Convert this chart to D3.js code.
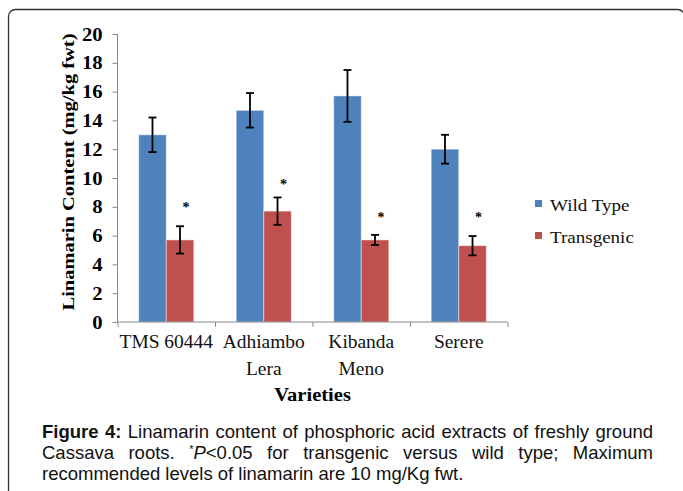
<!DOCTYPE html>
<html>
<head>
<meta charset="utf-8">
<script src="https://cdn.jsdelivr.net/npm/d3@7"></script>
<style>
  body { margin: 0; background: #fff; }
  svg { display: block; }
  .serif { font-family: "Liberation Serif", "Times New Roman", serif; }
  .sans { font-family: "Liberation Sans", Arial, sans-serif; }
</style>
</head>
<body>
<script>
// Chart data
const categoryLines = [["TMS 60444"], ["Adhiambo", "Lera"], ["Kibanda", "Meno"], ["Serere"]];
const series = ["Wild Type", "Transgenic"];
const wildType = [13.0, 14.7, 15.7, 12.0];
const wildTypeErr = [1.2, 1.2, 1.8, 1.0];
const transgenic = [5.7, 7.7, 5.7, 5.3];
const transgenicErr = [0.95, 0.95, 0.35, 0.67];
const starLevel = [8.2, 9.8, 7.5, 7.5];   // where the "*" sits over each transgenic bar
const yTicks = [0, 2, 4, 6, 8, 10, 12, 14, 16, 18, 20];
const colors = ["#4F81BD", "#C0504D"];

const W = 683, H = 491;
const svg = d3.select("body").append("svg").attr("width", W).attr("height", H);

//Frame round the figure:
svg.append("rect")
    .attr("x", 8.5).attr("y", 9.5)
    .attr("width", 676).attr("height", 500)
    .attr("rx", 7)
    .attr("fill", "none")
    .attr("stroke", "#333")
    .attr("stroke-width", 1.3);

//Scales
let x0 = d3.scaleBand().domain(d3.range(categoryLines.length)).range([117.5, 507.5]);
let x1 = d3.scaleBand().domain(series).range([0, x0.bandwidth()])
    .paddingInner(0).paddingOuter(0.77);
let y = d3.scaleLinear().domain([0, 20]).range([322, 34]);
let xEdge = d3.scaleLinear().domain([0, categoryLines.length]).range(x0.range());

let rows = categoryLines.map((c, i) => ({
    i: i,
    values: [
        {s: series[0], v: wildType[i], e: wildTypeErr[i], c: colors[0]},
        {s: series[1], v: transgenic[i], e: transgenicErr[i], c: colors[1]}
    ]
}));

//Bars
let groups = svg.selectAll("g.cat")
    .data(rows)
    .join("g")
    .attr("class", "cat")
    .attr("transform", d => `translate(${x0(d.i)},0)`);

groups.selectAll("rect")
    .data(d => d.values)
    .join("rect")
    .attr("x", d => x1(d.s))
    .attr("y", d => y(d.v))
    .attr("width", x1.bandwidth())
    .attr("height", d => y(0) - y(d.v))
    .attr("fill", d => d.c)
    .attr("stroke", "rgba(255,255,255,0.45)")
    .attr("stroke-width", 1);

//Error bars
let errs = groups.selectAll("g.err")
    .data(d => d.values)
    .join("g")
    .attr("class", "err")
    .attr("transform", d => `translate(${x1(d.s) + x1.bandwidth() / 2},0)`)
    .attr("stroke", "#000")
    .attr("stroke-width", 1.8);
errs.append("line")
    .attr("y1", d => y(d.v + d.e)).attr("y2", d => y(d.v - d.e));
errs.append("line")
    .attr("x1", -4).attr("x2", 4)
    .attr("y1", d => y(d.v + d.e)).attr("y2", d => y(d.v + d.e));
errs.append("line")
    .attr("x1", -4).attr("x2", 4)
    .attr("y1", d => y(d.v - d.e)).attr("y2", d => y(d.v - d.e));

//Significance stars
svg.selectAll("text.star")
    .data(starLevel)
    .join("text")
    .attr("class", "star serif")
    .attr("x", (d, i) => x0(i) + x1(series[1]) + x1.bandwidth() / 2 + 6)
    .attr("y", d => y(d) + 8)
    .attr("text-anchor", "middle")
    .attr("font-size", 14)
    .attr("font-weight", "bold")
    .attr("fill", "#000")
    .text("*");

//Y axis
let yAxis = svg.append("g")
    .attr("transform", `translate(${x0.range()[0]},0)`)
    .call(d3.axisLeft(y).tickValues(yTicks).tickSize(5).tickFormat(d3.format("d")));
yAxis.selectAll("path, line").attr("stroke", "#868686");
yAxis.select("path").attr("d", `M0,${y(20)}V${y(0)}`);
yAxis.selectAll("text")
    .attr("class", "serif")
    .attr("font-size", 18)
    .attr("font-weight", "bold")
    .attr("fill", "#000")
    .attr("x", -13)
    .attr("dy", "0.34em")
    .attr("transform", "scale(1.15,1)");

//X axis (ticks on the category borders)
let xAxis = svg.append("g")
    .attr("transform", `translate(0,${y(0)})`)
    .call(d3.axisBottom(xEdge).tickValues(d3.range(categoryLines.length + 1)).tickSize(5).tickFormat(""));
xAxis.selectAll("path, line").attr("stroke", "#868686");
xAxis.select("path").attr("d", `M${xEdge(0)},0H${xEdge(categoryLines.length)}`);

//Category labels
let catLabels = svg.selectAll("g.catLabel")
    .data(categoryLines)
    .join("g")
    .attr("class", "catLabel")
    .attr("transform", (d, i) => `translate(${x0(i) + x0.bandwidth() / 2},348) scale(1.08,1)`);
catLabels.append("text")
    .attr("class", "serif")
    .attr("text-anchor", "middle")
    .attr("font-size", 18)
    .attr("fill", "#111")
    .selectAll("tspan")
    .data(d => d)
    .join("tspan")
    .attr("x", 0)
    .attr("y", (d, i) => i * 27)
    .text(d => d);

//Axis titles
svg.append("text")
    .attr("class", "serif")
    .attr("transform", "translate(74,172) rotate(-90)")
    .attr("text-anchor", "middle")
    .attr("font-size", 17)
    .attr("font-weight", "bold")
    .attr("textLength", 277)
    .attr("lengthAdjust", "spacingAndGlyphs")
    .text("Linamarin Content (mg/kg fwt)");

svg.append("g")
    .attr("transform", `translate(${(xEdge(0) + xEdge(4)) / 2},401) scale(1.08,1)`)
    .append("text")
    .attr("class", "serif")
    .attr("text-anchor", "middle")
    .attr("font-size", 19)
    .attr("font-weight", "bold")
    .text("Varieties");

//Legend
let legend = svg.selectAll("g.legend")
    .data(series)
    .join("g")
    .attr("class", "legend")
    .attr("transform", (d, i) => `translate(535,${200 + i * 32})`);
legend.append("rect")
    .attr("width", 7).attr("height", 7)
    .attr("fill", (d, i) => colors[i]);
legend.append("text")
    .attr("class", "serif")
    .attr("transform", "translate(15,11) scale(1.12,1)")
    .attr("font-size", 17)
    .attr("fill", "#111")
    .text(d => d);

/* Caption:
 * - justified lines are laid out word by word
 */
const captionLines = [
    {justify: true, words: [
        [{t: "Figure", b: true}], [{t: "4:", b: true}], [{t: "Linamarin"}], [{t: "content"}], [{t: "of"}],
        [{t: "phosphoric"}], [{t: "acid"}], [{t: "extracts"}], [{t: "of"}], [{t: "freshly"}], [{t: "ground"}]]},
    {justify: true, words: [
        [{t: "Cassava"}], [{t: "roots."}], [{t: "*", sup: true}, {t: "P", i: true}, {t: "<0.05"}], [{t: "for"}],
        [{t: "transgenic"}], [{t: "versus"}], [{t: "wild"}], [{t: "type;"}], [{t: "Maximum"}]]},
    {justify: false, words: [
        [{t: "recommended"}], [{t: "levels"}], [{t: "of"}], [{t: "linamarin"}], [{t: "are"}], [{t: "10"}],
        [{t: "mg/Kg"}], [{t: "fwt."}]]}
];
const capLeft = 42, capRight = 653, capTop = 438, capStep = 21;

captionLines.forEach((line, li) => {
    let words = svg.selectAll(null)
        .data(line.words)
        .enter()
        .append("text")
        .attr("class", "sans")
        .attr("font-size", 18.5)
        .attr("fill", "#111")
        .attr("y", capTop + li * capStep);
    words.selectAll("tspan")
        .data(d => d)
        .join("tspan")
        .attr("font-weight", d => d.b ? "bold" : null)
        .attr("font-style", d => d.i ? "italic" : null)
        .attr("font-size", d => d.sup ? 11 : null)
        .attr("baseline-shift", d => d.sup ? "55%" : null)
        .text(d => d.t);
    let widths = words.nodes().map(n => n.getComputedTextLength());
    let total = d3.sum(widths);
    let gap = line.justify ? (capRight - capLeft - total) / (widths.length - 1) : 5.1;
    let pos = capLeft;
    words.attr("x", (d, i) => {
        let p = pos;
        pos += widths[i] + gap;
        return p;
    });
});
</script>
</body>
</html>
